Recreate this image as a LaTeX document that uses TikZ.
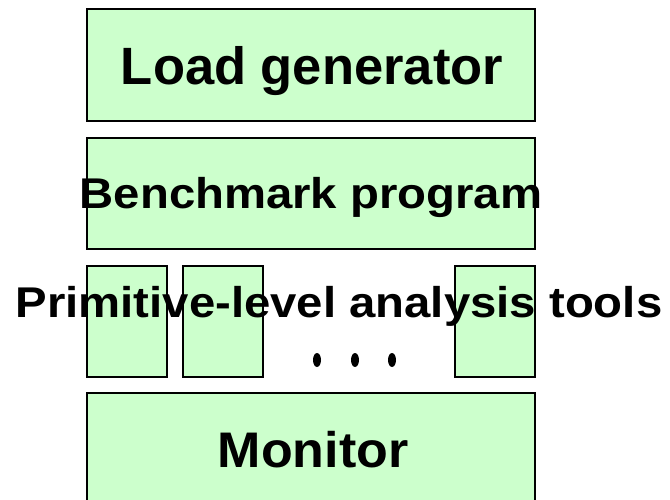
\documentclass[tikz,border=0pt]{standalone}
\usepackage{fontspec}
\setmainfont{Liberation Sans}
\definecolor{boxgreen}{RGB}{204,255,204}
\tikzset{
  layer/.style={draw=black, line width=1.5pt, fill=boxgreen, rectangle,
    inner sep=0pt, minimum width=448pt, minimum height=112pt},
  tool/.style={layer, minimum width=80pt, minimum height=111pt},
  caption/.style={anchor=base, inner sep=0pt, font=\bfseries}
}
\begin{document}
\begin{tikzpicture}[x=1pt,y=-1pt]
    \useasboundingbox (0,0) rectangle (670,500);
    % layers
    \node[layer] (load) at (311,65) {};
    \node[layer, minimum height=111pt] (bench) at (311,193.5) {};
    \node[tool] (toolA) at (127,321.5) {};
    \node[tool] (toolB) at (223,321.5) {};
    \node[tool] (toolC) at (495,321.5) {};
    \node[layer] (monitor) at (311,449) {};
    % dots between the tools
    \foreach \x in {317,355,392}
    \fill[black] (\x,360) ellipse [x radius=4, y radius=7];
    % labels
    \node[caption] (loadtext) at (312,85)
      {\fontsize{52.5}{60}\selectfont Load generator};
    \node[caption] (benchtext) at (311,209)
      {\scalebox{1.1}[1]{\fontsize{43}{50}\selectfont Benchmark program}};
    \node[caption] (tooltext) at (339,317)
      {\scalebox{1.1}[1]{\fontsize{43}{50}\selectfont Primitive-level analysis tools}};
    \node[caption] (montext) at (313,467)
      {\scalebox{1.04}[1]{\fontsize{50}{58}\selectfont Monitor}};
\end{tikzpicture}
\end{document}
